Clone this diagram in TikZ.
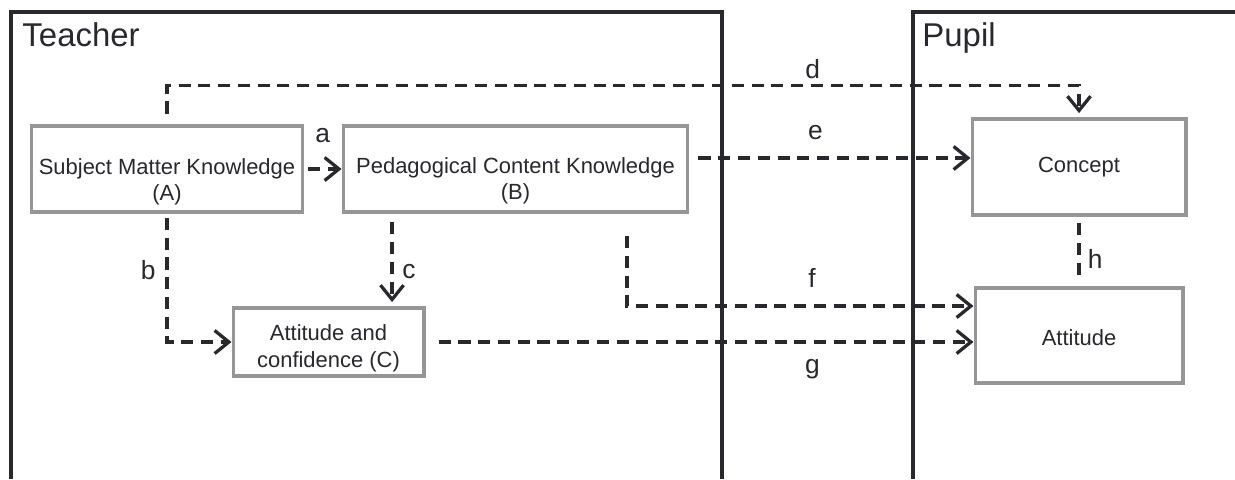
\documentclass[tikz,border=0pt]{standalone}
\usepackage{fontspec}
\setmainfont{Liberation Sans}
\usetikzlibrary{positioning, arrows.meta}
\definecolor{framedark}{RGB}{40,40,45}
\definecolor{boxgray}{RGB}{150,150,150}

\begin{document}
\begin{tikzpicture}[
        x=0.016cm, y=-0.016cm,
        frame/.style={draw=framedark, line width=1.4pt},
        title/.style={font=\fontsize{15}{18}\selectfont, text=framedark, anchor=base west, inner sep=0pt},
        box/.style={draw=boxgray, line width=1.4pt, fill=white, align=center, inner ysep=1pt, font=\fontsize{10}{12.2}\selectfont, text=framedark},
        link/.style={draw=framedark, line width=1.5pt, dash pattern=on 5.5pt off 3.5pt, -{Straight Barb[length=6.5pt, width=10.5pt]}},
        plainlink/.style={draw=framedark, line width=1.5pt, dash pattern=on 5.5pt off 3.5pt},
        lbl/.style={font=\large, text=framedark, inner sep=0pt}
    ]
    \useasboundingbox (0,0) rectangle (1235,479);

    % Rahmen
    \draw[frame] (11,479) |- (722,12) -- (722,479);
    \draw[frame] (913,479) |- (1235,12);
    \node[title] (teacher) at (22,46) {Teacher};
    \node[title] (pupil) at (922,46) {Pupil};

    % Knoten
    \node[box, minimum width=4.32cm, minimum height=1.376cm] (smk) at (167,169) {\rule{0pt}{19pt}Subject Matter Knowledge\\(A)};
    \node[box, minimum width=5.52cm, minimum height=1.376cm] (pck) at (515.5,169) {\rule{0pt}{18pt}Pedagogical Content Knowledge\\(B)};
    \node[box, minimum width=3.056cm, minimum height=1.088cm] (att) at (328.5,342) {\rule{0pt}{13pt}Attitude and\\confidence (C)};
    \node[box, minimum width=3.424cm, minimum height=1.536cm] (concept) at (1079,167) {Concept};
    \node[box, minimum width=3.328cm, minimum height=1.52cm] (attitude) at (1079,335.5) {\rule{0pt}{9pt}Attitude};

    \coordinate (e0) at ([shift={(9,-11)}]pck.east);
    \coordinate (f0) at (627,236);

    % Kanten
    \draw[link, shorten <=2pt] (smk.east) -- (pck.west) node[lbl, midway, yshift=0.54cm] {a};
    \draw[link, shorten <=2pt] (smk.south) |- (att.west) node[lbl, pos=0.22, xshift=-0.3cm] {b};
    \draw[link, shorten <=4pt, shorten >=2pt] ([xshift=-1.976cm]pck.south) -- ([xshift=-1.976cm]pck.south |- att.north) node[lbl, pos=0.62, xshift=0.27cm] {c};
    \draw[link, shorten <=5pt, shorten >=2pt] (smk.north) -- ++(0,-39) -| node[lbl, pos=0.354, yshift=0.27cm] {d} (concept.north);
    \draw[link] (e0) -- (e0 -| concept.west) node[lbl, pos=0.43, yshift=0.4cm] {e};
    \draw[link] (f0) |- ([yshift=0.472cm]attitude.west) node[lbl, pos=0.767, yshift=0.45cm] {f};
    \draw[link, shorten <=6pt] (att.east) -- (att.east -| attitude.west) node[lbl, pos=0.706, yshift=-0.43cm] {g};
    \draw[plainlink, shorten <=3pt, shorten >=5pt] (concept.south) -- (attitude.north) node[lbl, pos=0.6, xshift=0.26cm] {h};

\end{tikzpicture}
\end{document}
